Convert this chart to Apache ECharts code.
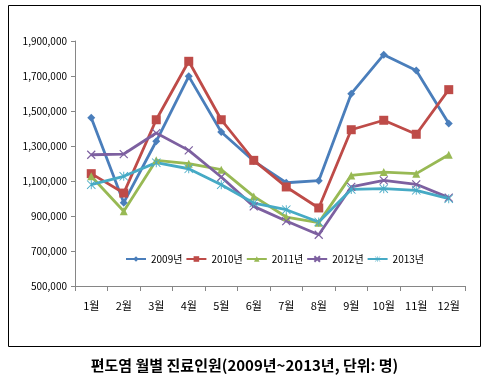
<!DOCTYPE html>
<html>
<head>
<meta charset="utf-8">
<script src="https://cdn.jsdelivr.net/npm/echarts@6/dist/echarts.min.js"></script>
<style>
  html, body { margin: 0; padding: 0; background: #fff; }
  #chart { width: 489px; height: 376px; }
</style>
</head>
<body>
<div id="chart"></div>
<script>
var months = ["1월", "2월", "3월", "4월", "5월", "6월", "7월", "8월", "9월", "10월", "11월", "12월"];
var yearNames = ["2009년", "2010년", "2011년", "2012년", "2013년"];
var y2009 = [1462000, 976000, 1327000, 1698000, 1380000, 1214000, 1090000, 1102000, 1599000, 1822000, 1732000, 1428000];
var y2010 = [1142000, 1031000, 1450000, 1784000, 1450000, 1218000, 1066000, 946000, 1393000, 1447000, 1367000, 1622000];
var y2011 = [1127000, 927000, 1218000, 1199000, 1165000, 1012000, 894000, 862000, 1132000, 1151000, 1142000, 1250000];
var y2012 = [1250000, 1254000, 1374000, 1275000, 1123000, 955000, 871000, 793000, 1066000, 1104000, 1081000, 1005000];
var y2013 = [1079000, 1127000, 1205000, 1170000, 1079000, 974000, 936000, 866000, 1052000, 1056000, 1047000, 999000];

var colors = ["#4a7ebb", "#be4b48", "#98b954", "#7d60a0", "#46aac5"];
var font = "'Noto Sans CJK KR', sans-serif";

// x mark drawn as strokes, asterisk as thin filled bars
var crossPath = "path://M0,0L10,10M10,0L0,10";
var starPath = "path://M5.4,0L6.6,0L6.6,12L5.4,12Z" +
    "M0,0.8L0.8,0L12,11.2L11.2,12Z" +
    "M11.2,0L12,0.8L0.8,12L0,11.2Z";

function makeSeries(name, data, color, symbol, size, kind) {
    var item;
    if (kind === "stroke") {
        item = { color: "rgba(0,0,0,0)", borderColor: color, borderWidth: 1.2 };
    } else {
        item = { color: color, borderWidth: 0 };
    }
    return {
        name: name,
        type: "line",
        data: data,
        symbol: symbol,
        symbolSize: size,
        showAllSymbol: true,
        lineStyle: { color: color, width: 2.8 },
        itemStyle: item,
        emphasis: { disabled: true }
    };
}

var myChart = echarts.init(document.getElementById("chart"));
myChart.setOption({
    animation: false,
    color: colors,
    textStyle: { fontFamily: font },
    title: {
        text: "편도염 월별 진료인원(2009년~2013년, 단위: 명)",
        left: "center",
        top: 353,
        textStyle: { fontSize: 15, fontWeight: "bold", color: "#000", fontFamily: font }
    },
    graphic: [
        {
            type: "rect",
            shape: { x: 8.5, y: 5.5, width: 472, height: 341 },
            style: { fill: "none", stroke: "#000", lineWidth: 1 },
            silent: true
        }
    ],
    legend: {
        data: yearNames,
        left: 120,
        top: 249,
        itemWidth: 20,
        itemHeight: 7,
        itemGap: 3,
        textStyle: { fontSize: 10, color: "#000", fontFamily: font }
    },
    grid: { left: 75, right: 24, top: 41, bottom: 90, containLabel: false },
    xAxis: {
        type: "category",
        data: months,
        boundaryGap: true,
        axisLine: { lineStyle: { color: "#868686", width: 1 } },
        axisTick: { show: true, alignWithLabel: false, length: 5, lineStyle: { color: "#868686" } },
        axisLabel: { color: "#000", fontSize: 11, margin: 14, fontFamily: font }
    },
    yAxis: {
        type: "value",
        min: 500000,
        max: 1900000,
        interval: 200000,
        splitLine: { show: false },
        axisLine: { show: true, lineStyle: { color: "#868686", width: 1 } },
        axisTick: { show: true, length: 4, lineStyle: { color: "#868686" } },
        axisLabel: {
            color: "#000",
            fontSize: 10,
            margin: 8,
            fontFamily: font,
            formatter: function (v) { return v.toLocaleString("en-US"); }
        }
    },
    series: [
        makeSeries(yearNames[0], y2009, colors[0], "diamond", 8, "fill"),
        makeSeries(yearNames[1], y2010, colors[1], "rect", 9, "fill"),
        makeSeries(yearNames[2], y2011, colors[2], "triangle", 8, "fill"),
        makeSeries(yearNames[3], y2012, colors[3], crossPath, 8, "stroke"),
        makeSeries(yearNames[4], y2013, colors[4], starPath, 9, "fill")
    ]
});
</script>
</body>
</html>
